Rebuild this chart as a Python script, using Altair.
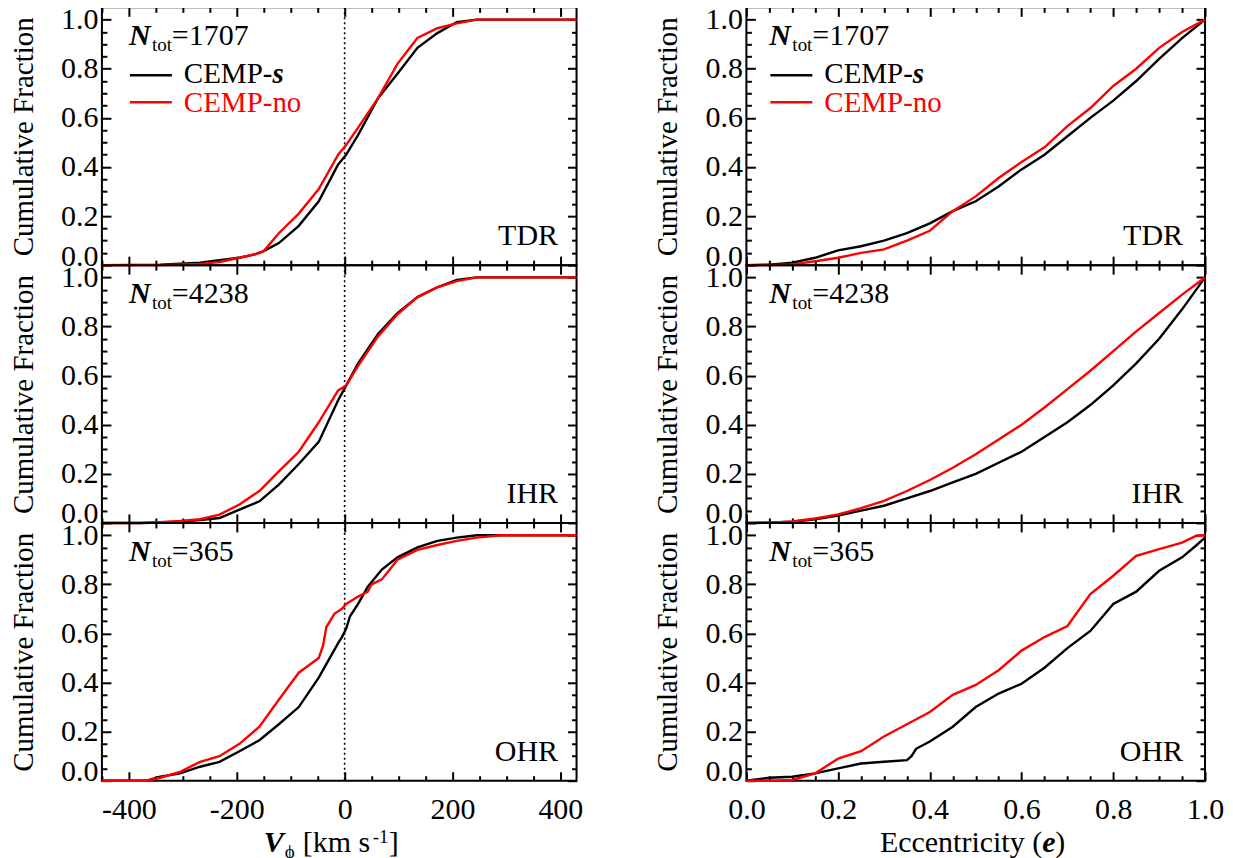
import altair as alt
import pandas as pd

FONT = "Liberation Serif, Times New Roman, Times, serif"

# ---------------- data ----------------
# Left column: V_phi [km s^-1]
tdr_v_s_x = [-450, -342, -268, -232, -195, -165, -150, -122, -85, -48, -12, 3, 25, 62, 98, 135, 172, 208, 245, 430]
tdr_v_s_y = [0, 0.002, 0.01, 0.02, 0.03, 0.045, 0.057, 0.09, 0.16, 0.26, 0.41, 0.45, 0.53, 0.68, 0.78, 0.885, 0.945, 0.99, 1.0, 1.0]
tdr_v_no_x = [-450, -342, -268, -232, -195, -165, -150, -122, -85, -48, -12, 3, 25, 62, 98, 135, 172, 208, 245, 430]
tdr_v_no_y = [0, 0.0, 0.005, 0.013, 0.03, 0.045, 0.057, 0.13, 0.21, 0.31, 0.45, 0.49, 0.56, 0.68, 0.82, 0.925, 0.965, 0.985, 1.0, 1.0]

ihr_v_s_x = [-450, -380, -342, -305, -268, -232, -195, -158, -122, -85, -48, -12, 3, 25, 62, 98, 135, 172, 208, 245, 430]
ihr_v_s_y = [0, 0, 0.002, 0.005, 0.012, 0.02, 0.054, 0.088, 0.156, 0.24, 0.33, 0.50, 0.56, 0.65, 0.77, 0.855, 0.92, 0.96, 0.99, 1.0, 1.0]
ihr_v_no_x = [-450, -380, -342, -305, -268, -232, -195, -158, -122, -85, -48, -12, 3, 25, 62, 98, 135, 172, 208, 245, 430]
ihr_v_no_y = [0, 0, 0.003, 0.008, 0.015, 0.034, 0.075, 0.13, 0.21, 0.29, 0.41, 0.54, 0.56, 0.64, 0.76, 0.85, 0.92, 0.96, 0.985, 1.0, 1.0]

ohr_v_s_x = [-450, -367, -342, -305, -268, -232, -195, -158, -122, -85, -48, -30, -12, -5, 3, 10, 25, 43, 69, 98, 135, 172, 208, 245, 430]
ohr_v_s_y = [0, 0, 0.016, 0.03, 0.057, 0.077, 0.12, 0.165, 0.23, 0.30, 0.42, 0.49, 0.56, 0.585, 0.62, 0.67, 0.72, 0.79, 0.86, 0.91, 0.95, 0.977, 0.99, 1.0, 1.0]
ohr_v_no_x = [-450, -367, -342, -305, -268, -232, -195, -158, -122, -85, -48, -40, -34, -19, -5, 3, 25, 43, 50, 69, 98, 135, 172, 208, 245, 289, 430]
ohr_v_no_y = [0, 0, 0.012, 0.036, 0.077, 0.10, 0.15, 0.22, 0.33, 0.44, 0.50, 0.55, 0.625, 0.68, 0.70, 0.72, 0.75, 0.77, 0.80, 0.82, 0.90, 0.94, 0.96, 0.977, 0.99, 1.0, 1.0]

# Right column: eccentricity
tdr_e_x = [0.0, 0.05, 0.1, 0.15, 0.2, 0.25, 0.3, 0.35, 0.4, 0.45, 0.5, 0.55, 0.6, 0.65, 0.7, 0.75, 0.8, 0.85, 0.9, 0.95, 1.0]
tdr_e_s_y = [0, 0.002, 0.01, 0.03, 0.06, 0.077, 0.10, 0.13, 0.17, 0.22, 0.26, 0.32, 0.39, 0.45, 0.525, 0.60, 0.67, 0.75, 0.84, 0.925, 1.0]
tdr_e_no_y = [0, 0.0, 0.003, 0.016, 0.03, 0.05, 0.064, 0.10, 0.14, 0.22, 0.28, 0.355, 0.42, 0.48, 0.566, 0.64, 0.73, 0.80, 0.885, 0.95, 1.0]

ihr_e_x = [0.0, 0.05, 0.1, 0.15, 0.2, 0.25, 0.3, 0.35, 0.4, 0.45, 0.5, 0.55, 0.6, 0.65, 0.7, 0.75, 0.8, 0.85, 0.9, 0.95, 1.0]
ihr_e_s_y = [0, 0.001, 0.005, 0.015, 0.03, 0.05, 0.07, 0.10, 0.13, 0.165, 0.20, 0.245, 0.29, 0.35, 0.41, 0.48, 0.56, 0.65, 0.75, 0.87, 1.0]
ihr_e_no_y = [0, 0.001, 0.006, 0.018, 0.035, 0.06, 0.09, 0.13, 0.175, 0.225, 0.28, 0.34, 0.40, 0.47, 0.545, 0.62, 0.70, 0.78, 0.855, 0.93, 1.0]

ohr_e_s_x = [0.0, 0.05, 0.1, 0.15, 0.2, 0.25, 0.3, 0.35, 0.36, 0.37, 0.4, 0.45, 0.5, 0.55, 0.6, 0.65, 0.7, 0.75, 0.8, 0.85, 0.9, 0.95, 0.98, 1.0]
ohr_e_s_y = [0, 0.012, 0.016, 0.03, 0.05, 0.07, 0.077, 0.084, 0.10, 0.13, 0.16, 0.22, 0.30, 0.355, 0.395, 0.46, 0.54, 0.61, 0.72, 0.77, 0.855, 0.91, 0.957, 0.99]
ohr_e_no_x = [0.0, 0.05, 0.1, 0.15, 0.2, 0.25, 0.3, 0.35, 0.4, 0.45, 0.5, 0.55, 0.6, 0.65, 0.7, 0.75, 0.8, 0.85, 0.9, 0.95, 0.98, 1.0]
ohr_e_no_y = [0, 0.0, 0.003, 0.03, 0.09, 0.12, 0.18, 0.23, 0.28, 0.35, 0.39, 0.45, 0.53, 0.585, 0.63, 0.76, 0.835, 0.916, 0.943, 0.97, 0.997, 1.0]

N_TOTALS = ["1707", "4238", "365"]
REGIONS = ["TDR", "IHR", "OHR"]
SERIES = ["CEMP-s", "CEMP-no"]
SERIES_COLORS = ["#000000", "#ff0000"]

V_DOMAIN = [-450, 430]
E_DOMAIN = [0.0, 1.0]
Y_DOMAIN = [0.0, 1.05]
V_MAJOR = [-400, -200, 0, 200, 400]
V_TICKS = [-450, -400, -350, -300, -250, -200, -150, -100, -50, 0, 50, 100, 150, 200, 250, 300, 350, 400]
E_MAJOR = [0.0, 0.2, 0.4, 0.6, 0.8, 1.0]
FINE_TICKS = [0.0, 0.05, 0.1, 0.15, 0.2, 0.25, 0.3, 0.35, 0.4, 0.45, 0.5, 0.55, 0.6, 0.65,
              0.7, 0.75, 0.8, 0.85, 0.9, 0.95, 1.0]
Y_MAJOR = [0.0, 0.2, 0.4, 0.6, 0.8, 1.0]

# ---------------- layout / style ----------------
W_LEFT, W_RIGHT, H = 475, 459, 258
COL_GAP = 170
MAJ, MINR = 9, 5
LINE_W = 2.4
TEST_FINE = "abs(datum.value * 5 - round(datum.value * 5)) < 0.001"
TEST_V = "abs(datum.value / 200 - round(datum.value / 200)) < 0.001"


def tick_axis(orient, offset, values, test):
    return alt.Axis(orient=orient, offset=offset, values=values, labels=False, domain=False,
                    grid=False, title=None, ticks=True, tickColor="black", tickWidth=2,
                    tickSize={"condition": {"test": test, "value": MAJ}, "value": MINR})


def txt(text, x, y, size=30, color="black", style="normal", weight="normal", align="left"):
    return alt.Chart(pd.DataFrame({"t": [text]})).mark_text(
        align=align, baseline="alphabetic", font=FONT, fontSize=size, fontStyle=style,
        fontWeight=weight, color=color
    ).encode(x=alt.value(x), y=alt.value(y), text="t:N")


def seg(x1, x2, y, color):
    return alt.Chart(pd.DataFrame({"a": [0]})).mark_rule(color=color, strokeWidth=2.5).encode(
        x=alt.value(x1), x2=alt.value(x2), y=alt.value(y))


def panel(xs, ys, xn, yn, left, row):
    W = W_LEFT if left else W_RIGHT
    xdom = V_DOMAIN if left else E_DOMAIN
    xmaj = V_MAJOR if left else E_MAJOR
    xall = V_TICKS if left else FINE_TICKS
    xtest = TEST_V if left else TEST_FINE
    bottom = row == 2
    xscale = alt.Scale(domain=xdom, nice=False, zero=False)
    yscale = alt.Scale(domain=Y_DOMAIN, nice=False, zero=False)

    dfs = pd.DataFrame({"x": xs, "y": ys})
    dfn = pd.DataFrame({"x": xn, "y": yn})

    if bottom:
        xlab = dict(labelExpr="'' + datum.value") if left else dict(format=".1f")
        xax1 = alt.Axis(orient="bottom", values=xmaj, ticks=False, domain=False, grid=False,
                        labelFontSize=30, labelPadding=14, labelFlush=False, labelOverlap=False,
                        title=None, **xlab)
    else:
        xax1 = None
    yax1 = alt.Axis(orient="left", values=Y_MAJOR, ticks=False, domain=False, grid=False,
                    labelFontSize=30, labelPadding=4, format=".1f", labelBaseline="middle",
                    labelFlush=False, labelOverlap=False,
                    labelOffset={"condition": {"test": "datum.value === 0", "value": -9}, "value": 0},
                    title="Cumulative Fraction", titleFontSize=29, titlePadding=22,
                    titleFontWeight="normal")

    black = alt.Chart(dfs).mark_line(color=SERIES_COLORS[0], strokeWidth=LINE_W).encode(
        x=alt.X("x:Q", scale=xscale, axis=xax1),
        y=alt.Y("y:Q", scale=yscale, axis=yax1))
    red = alt.Chart(dfn).mark_line(color=SERIES_COLORS[1], strokeWidth=LINE_W).encode(
        x=alt.X("x:Q", scale=xscale, axis=tick_axis("top", -H, xall, xtest)),
        y=alt.Y("y:Q", scale=yscale, axis=tick_axis("right", -W, FINE_TICKS, TEST_FINE)))
    ghost = alt.Chart(dfs).mark_line(strokeOpacity=0).encode(
        x=alt.X("x:Q", scale=xscale, axis=tick_axis("bottom", -H, xall, xtest)),
        y=alt.Y("y:Q", scale=yscale, axis=tick_axis("left", -W, FINE_TICKS, TEST_FINE)))

    layers = []
    if left:
        zero = alt.Chart(pd.DataFrame({"x": [0]})).mark_rule(
            color="black", strokeWidth=1.6, strokeDash=[2, 3]).encode(
            x=alt.X("x:Q", scale=xscale, axis=None))
        layers.append(zero)
    layers += [black, red, ghost]

    dx = 0 if left else -4
    layers += [
        txt("N", 27 + dx, 38, 30, style="italic", weight="bold"),
        txt("tot", 50 + dx, 44, 19),
        txt("=" + N_TOTALS[row], 70 + dx, 38, 30),
        txt(REGIONS[row], W - (18.5 if left else 22), 238, 30, align="right"),
    ]
    if row == 0:
        layers += [
            seg(28 + dx, 70 + dx, 68, SERIES_COLORS[0]),
            txt(SERIES[0][:-1], 82 + dx, 76, 29),
            txt(SERIES[0][-1], 82 + dx + 88.6, 76, 29, style="italic", weight="bold"),
            seg(28 + dx, 70 + dx, 95, SERIES_COLORS[1]),
            txt(SERIES[1], 82 + dx, 105, 29, color=SERIES_COLORS[1]),
        ]
    if bottom:
        ty = H + 71
        if left:
            layers += [
                txt("V", 162, ty, 30, style="italic", weight="bold"),
                txt("\u03d5", 183, ty + 6, 19),
                txt("[km s", 201, ty, 30),
                txt("-1", 271, ty - 9, 19),
                txt("]", 287, ty, 30),
            ]
        else:
            layers += [
                txt("Eccentricity (", 296, ty, 30, align="right"),
                txt("e", 296, ty, 30, style="italic", weight="bold"),
                txt(")", 309, ty, 30),
            ]

    return alt.layer(*layers).resolve_axis(x="independent", y="independent").properties(
        width=W, height=H)


panels = [
    panel(tdr_v_s_x, tdr_v_s_y, tdr_v_no_x, tdr_v_no_y, True, 0),
    panel(tdr_e_x, tdr_e_s_y, tdr_e_x, tdr_e_no_y, False, 0),
    panel(ihr_v_s_x, ihr_v_s_y, ihr_v_no_x, ihr_v_no_y, True, 1),
    panel(ihr_e_x, ihr_e_s_y, ihr_e_x, ihr_e_no_y, False, 1),
    panel(ohr_v_s_x, ohr_v_s_y, ohr_v_no_x, ohr_v_no_y, True, 2),
    panel(ohr_e_s_x, ohr_e_s_y, ohr_e_no_x, ohr_e_no_y, False, 2),
]

chart = alt.concat(
    *panels, columns=2, spacing={"row": 0, "column": COL_GAP}, bounds="flush"
).properties(
    padding={"left": 0, "top": -5, "right": 0, "bottom": 0}
).configure_view(
    stroke="black", strokeWidth=2
).configure_axis(
    labelFont=FONT, titleFont=FONT, labelColor="black", titleColor="black"
)

chart.save("out.html", embed_options={"renderer": "svg", "actions": False})
